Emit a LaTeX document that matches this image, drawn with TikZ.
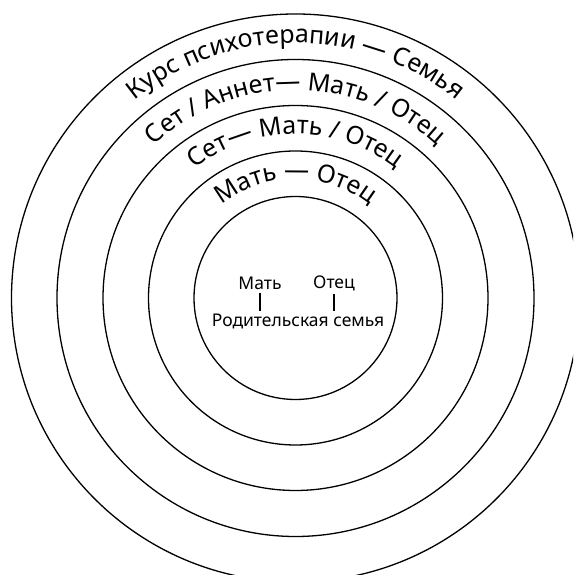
\documentclass[tikz,border=0pt]{standalone}
\usepackage{fontspec}
\setmainfont{Noto Sans}
\usetikzlibrary{decorations.text}
\newcommand\ringfont{\fontsize{25}{30}\selectfont}
\tikzset{
  ring/.style={draw=black, line width=1.3pt},
  ringtext/.style={decorate, decoration={text along path, text align=center, text={#1}}},
  centertext/.style={font=\fontsize{17.5}{20}\selectfont, inner sep=1pt},
  stem/.style={draw=black, line width=1.2pt}
}
\begin{document}
\begin{tikzpicture}[x=1pt,y=1pt]
\useasboundingbox (0,0) rectangle (573,575);
\fill[white] (0,0) rectangle (573,575);
\coordinate (C) at (295.5,277);
\begin{scope}
\clip (0,0) rectangle (573,575);
\foreach \r in {101.5,147,192.5,238.5,284} {
  \draw[ring] (C) circle[radius=\r];
}
\end{scope}
\path[ringtext={|\ringfont|Курс психотерапии — Семья}]
  ([shift={(C)}]175:255) arc[start angle=175, end angle=5, radius=255];
\path[ringtext={|\ringfont|Сет / Аннет— Мать / Отец}]
  ([shift={(C)}]175:208) arc[start angle=175, end angle=5, radius=208];
\path[ringtext={|\ringfont|Сет— Мать / Отец}]
  ([shift={(C)}]175:164) arc[start angle=175, end angle=5, radius=164];
\path[ringtext={|\ringfont|Мать — Отец}]
  ([shift={(C)}]175:119) arc[start angle=175, end angle=5, radius=119];
\node[centertext] (mat) at (260,292) {Мать};
\node[centertext] (otec) at (334,292) {Отец};
\node[centertext] (rod) at (298,254) {Родительская семья};
\draw[stem] ([yshift=-2pt]mat.south) -- ([yshift=1pt]mat.south |- rod.north);
\draw[stem] ([yshift=-2pt]otec.south) -- ([yshift=1pt]otec.south |- rod.north);
\end{tikzpicture}
\end{document}
